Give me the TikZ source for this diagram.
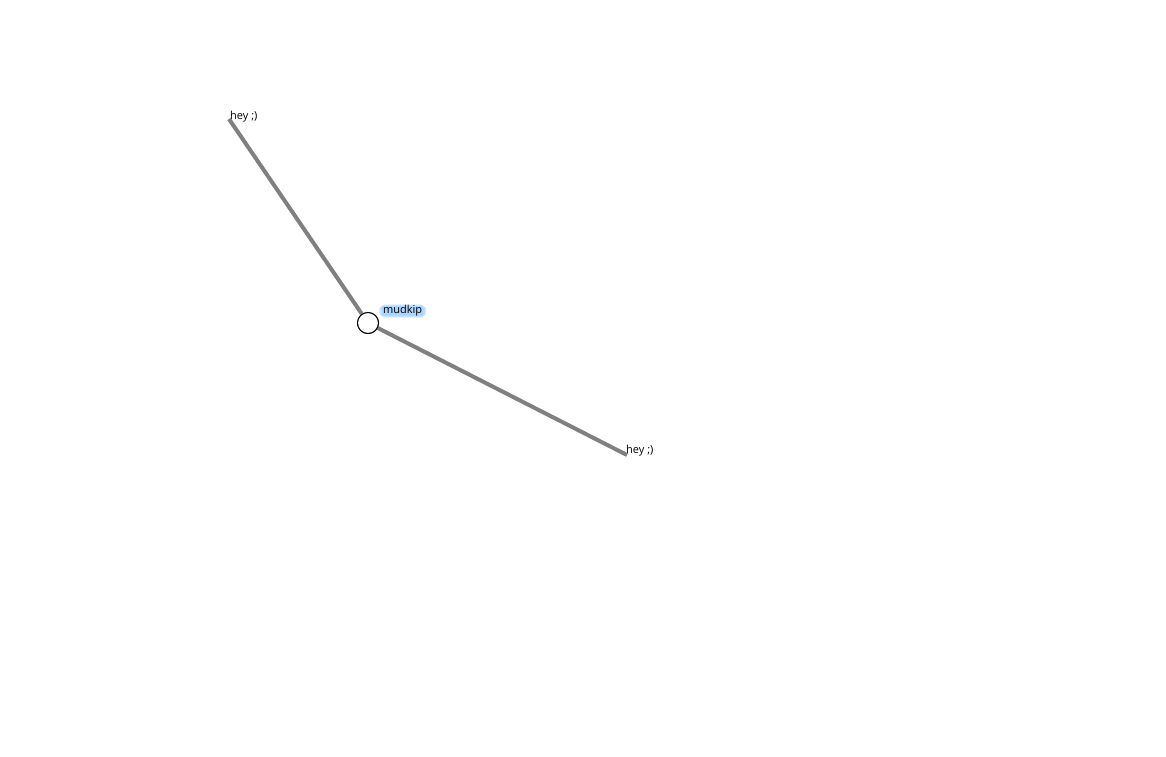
\documentclass[tikz,border=0pt]{standalone}
\usepackage{fontspec}
\setmainfont{Open Sans}
\definecolor{edgegray}{HTML}{808080}
\definecolor{glow}{HTML}{7CC0FF}
\begin{document}
\begin{tikzpicture}[x=1pt,y=-1pt,
  edge/.style={draw=edgegray,line width=4pt},
  vertex/.style={circle,draw=black,fill=white,line width=1pt,minimum size=21pt,inner sep=0pt},
  lbl/.style={font=\fontsize{11}{13}\selectfont,inner sep=1pt,text=black},
  glowbox/.style={rounded corners=3pt,fill=glow,fill opacity=0.3,draw=none}]
\useasboundingbox (0,0) rectangle (1166,756);
\coordinate (e1) at (229,119);
\coordinate (e2) at (627,455);
\node[vertex] (m) at (368,323) {};
\node[lbl,anchor=west] (t1) at (229,117) {hey ;)};
\node[lbl,anchor=west] (t2) at (625,451) {hey ;)};
\node[lbl,anchor=west,inner sep=1pt] (ml) at (382,311) {\phantom{mudkip}};
\fill[glowbox] ([xshift=-3pt,yshift=2pt]ml.south west) rectangle ([xshift=3pt,yshift=-2pt]ml.north east);
\fill[glowbox] ([xshift=-1.5pt,yshift=1pt]ml.south west) rectangle ([xshift=1.5pt,yshift=-1pt]ml.north east);
\fill[glowbox] (ml.south west) rectangle (ml.north east);
\node[lbl,anchor=west] at (ml.west) {mudkip};
\draw[edge] (e1) -- (m);
\draw[edge] (m) -- (e2);
\node[vertex] at (m) {};
\end{tikzpicture}
\end{document}
